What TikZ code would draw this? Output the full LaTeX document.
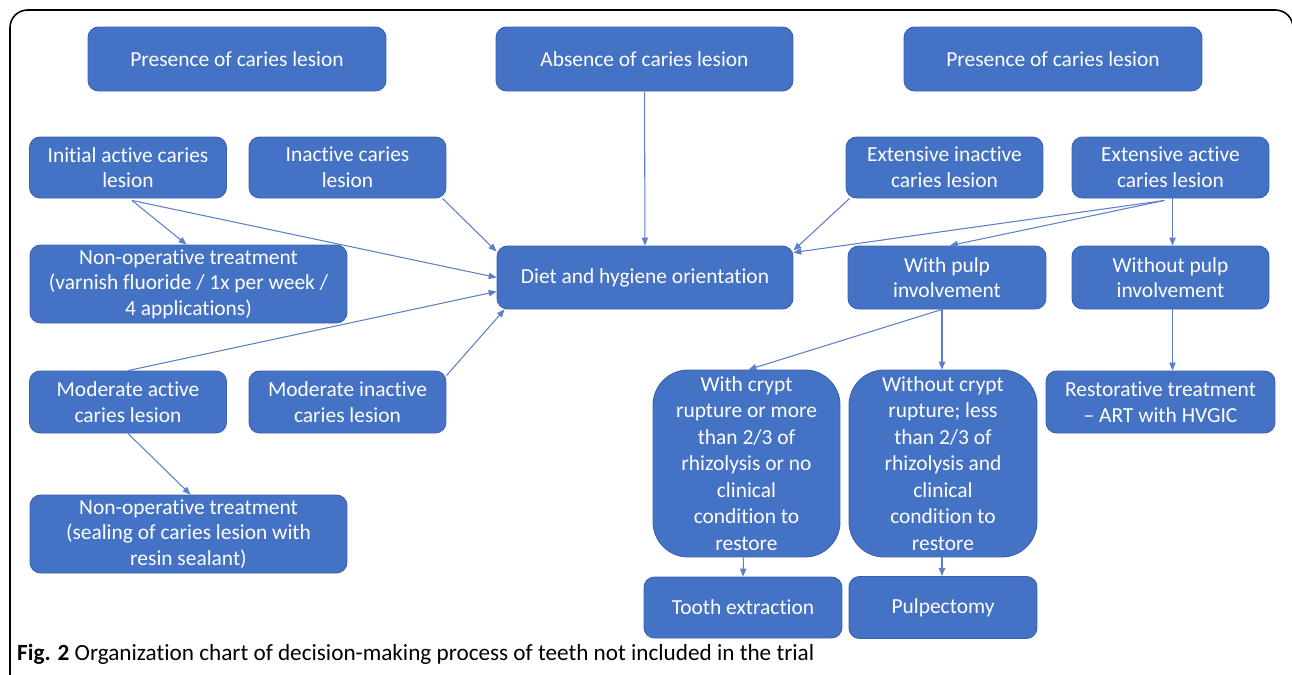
\documentclass[tikz,border=0pt]{standalone}
\usepackage{fontspec}
\setmainfont{Carlito}[Ligatures=NoCommon]
\usepackage{tikz}
\usetikzlibrary{positioning,calc,arrows.meta}
\usepackage{xcolor}
\definecolor{boxblue}{HTML}{4472C4}
\definecolor{boxline}{HTML}{3A62AC}
\definecolor{arrowblue}{HTML}{5B80C8}

\begin{document}
\begin{tikzpicture}[
    x=0.02cm, y=-0.02cm,
    every node/.style={font=\fontsize{12.2}{14.6}\selectfont},
    box/.style={rectangle, draw=boxline, fill=boxblue, text=white, line width=0.5pt, align=center, rounded corners=6pt, inner sep=2pt},
    bigbox/.style={box, rounded corners=20pt, font=\fontsize{12.2}{15.1}\selectfont},
    arrow/.style={-{Triangle[length=4.5pt,width=3.6pt]}, arrowblue, line width=0.6pt},
    caption/.style={font=\fontsize{13.2}{15}\selectfont, anchor=west}
]
\useasboundingbox (0,0) rectangle (1292,674);

% Frame
\draw[line width=0.9pt, rounded corners=10pt] (10,680) -- (10,10) -- (1293,10) -- (1293,680);

% Top row
\node[box, minimum width=5.96cm, minimum height=1.28cm] (pres1) at (237,59) {Presence of caries lesion};
\node[box, minimum width=5.94cm, minimum height=1.28cm] (abs) at (644.5,59) {Absence of caries lesion};
\node[box, minimum width=5.96cm, minimum height=1.28cm] (pres2) at (1053,59) {Presence of caries lesion};

% Lesion types
\node[box, minimum width=3.94cm, minimum height=1.22cm] (init) at (128,167.5) {Initial active caries\\lesion};
\node[box, minimum width=3.94cm, minimum height=1.22cm] (inact) at (347.5,167.5) {Inactive caries\\lesion};
\node[box, minimum width=3.94cm, minimum height=1.22cm] (extinact) at (944.5,167.5) {Extensive inactive\\caries lesion};
\node[box, minimum width=3.94cm, minimum height=1.22cm] (extact) at (1170.5,167.5) {Extensive active\\caries lesion};

% Middle row
\node[box, minimum width=6.34cm, minimum height=1.56cm] (nonop1) at (188.5,284) {Non-operative treatment\\(varnish fluoride / 1x per week /\\4 applications)};
\node[box, minimum width=5.92cm, minimum height=1.26cm] (diet) at (645,277.5) {Diet and hygiene orientation};
\node[box, minimum width=3.96cm, minimum height=1.26cm] (withpulp) at (947,277.5) {With pulp\\involvement};
\node[box, minimum width=3.94cm, minimum height=1.26cm] (withoutpulp) at (1170.5,277.5) {Without pulp\\involvement};

% Moderate lesions
\node[box, minimum width=3.94cm, minimum height=1.24cm] (modact) at (128,402) {Moderate active\\caries lesion};
\node[box, minimum width=3.94cm, minimum height=1.24cm] (modinact) at (347.5,402) {Moderate inactive\\caries lesion};
\node[box, minimum width=4.58cm, minimum height=1.24cm] (restor) at (1160.5,402) {Restorative treatment\\-- ART with HVGIC};
\node[box, minimum width=6.34cm, minimum height=1.56cm] (nonop2) at (188.5,534) {Non-operative treatment\\(sealing of caries lesion with\\resin sealant)};

% Pulp branches
\node[bigbox, minimum width=3.74cm, minimum height=3.74cm] (withcrypt) at (746.5,463.5) {With crypt\\rupture or more\\than 2/3 of\\rhizolysis or no\\clinical\\condition to\\restore};
\node[bigbox, minimum width=3.76cm, minimum height=3.74cm] (withoutcrypt) at (943,463.5) {Without crypt\\rupture; less\\than 2/3 of\\rhizolysis and\\clinical\\condition to\\restore};
\node[box, minimum width=3.96cm, minimum height=1.22cm] (tooth) at (743,607.5) {Tooth extraction};
\node[box, minimum width=3.76cm, minimum height=1.24cm] (pulpect) at (943,607.5) {Pulpectomy};

% Caption
\node[caption] (cap) at (11,654) {\textbf{Fig. 2} Organization chart of decision-making process of teeth not included in the trial};

% Arrows into diet orientation
\draw[arrow] (abs) -- (diet);
\draw[arrow] ($(init.south)+(4,2)$) -- (diet.west);
\draw[arrow] ($(inact.south east)+(-4,0)$) -- ($(diet.west)+(0,-26)$);
\draw[arrow] (modact.north) -- ($(diet.west)+(0,14)$);
\draw[arrow] ($(modinact.north east)+(0,5)$) -- ($(diet.south west)+(8,0)$);
\draw[arrow] ($(extinact.south west)+(4,0)$) -- ($(diet.east)+(0,-27)$);
\draw[arrow] ($(extact.south)+(-6,2)$) -- ($(diet.east)+(0,-25)$);

% Left side treatments
\draw[arrow] ($(init.south)+(4,2)$) -- ($(nonop1.north)+(-2,0)$);
\draw[arrow] (modact.south) -- ($(nonop2.north)+(2,0)$);

% Right side pulp involvement
\draw[arrow] ($(extact.south)+(-6,2)$) -- ($(withpulp.north)+(3,0)$);
\draw[arrow] ($(extact.south)+(2,0)$) -- ($(withoutpulp.north)+(2,0)$);
\draw[arrow] ($(withpulp.south)+(-5,0)$) -- ($(withcrypt.north)+(2,0)$);
\draw[arrow] ($(withpulp.south)+(-5,0)$) -- ($(withoutcrypt.north)+(-1,0)$);
\draw[arrow] ($(withoutpulp.south)+(2,0)$) -- ($(restor.north)+(12,0)$);
\draw[arrow] ($(withcrypt.south)+(-3,0)$) -- (tooth.north);
\draw[arrow] ($(withoutcrypt.south)+(-1,0)$) -- ($(pulpect.north)+(-1,0)$);

\end{tikzpicture}
\end{document}
